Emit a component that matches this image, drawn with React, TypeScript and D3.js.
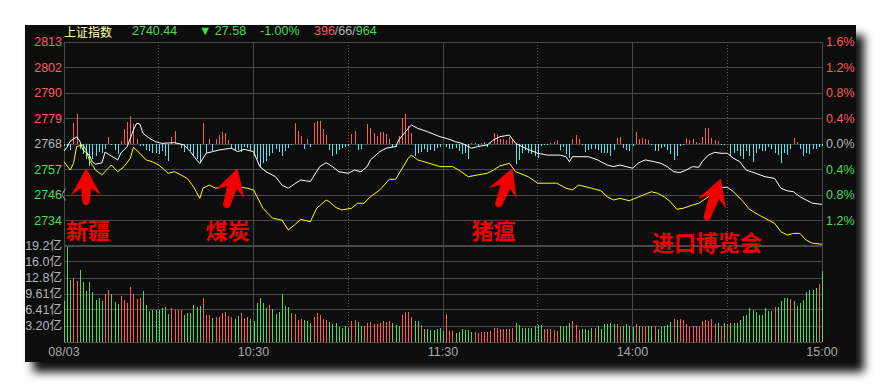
import React from "react";
import * as d3 from "d3";

// ---------- data ----------
const prevClose = 2768.02;
const header = { name: "上证指数", last: "2740.44", change: "▼ 27.58", pct: "-1.00%", up: "396", flat: "66", down: "964" };

const priceTickLabels = ["2813", "2802", "2790", "2779", "2768", "2757", "2746", "2734"];
const pctTickLabels = ["1.6%", "1.2%", "0.8%", "0.4%", "0.0%", "0.4%", "0.8%", "1.2%"];
const pctTickValues = [1.6, 1.2, 0.8, 0.4, 0, -0.4, -0.8, -1.2];
const volTickLabels = ["19.2亿", "16.0亿", "12.8亿", "9.61亿", "6.41亿", "3.20亿"];
const volTickValues = [19.22, 16.02, 12.81, 9.61, 6.41, 3.2];
const timeLabels = ["08/03", "10:30", "11:30", "14:00", "15:00"];
const timeLabelMinutes = [0, 60, 120, 180, 240];

// weighted index (white line): [minute, price]
const indexLine: [number, number][] = [
  [0, 2765.0], [1, 2766.7], [2, 2769.3], [4, 2771.1], [5, 2769.3], [6, 2765.4], [8, 2763.2], [9, 2760.2], [10, 2759.3], [12, 2759.8],
  [13, 2764.5], [15, 2762.8], [17, 2761.1], [18, 2764.1], [20, 2766.9], [22, 2774.1], [23, 2777.0], [24, 2776.7], [25, 2772.7], [27, 2770.5],
  [29, 2769.0], [31, 2768.3], [35, 2768.6], [38, 2767.6], [40, 2764.7], [42, 2761.1], [43, 2759.6], [45, 2764.0], [47, 2764.7], [49, 2765.4],
  [53, 2766.2], [55, 2764.7], [57, 2765.7], [60, 2764.7], [62, 2758.2], [64, 2756.0], [67, 2753.8], [69, 2750.2], [71, 2748.8], [73, 2750.7],
  [75, 2752.4], [78, 2751.7], [81, 2758.2], [83, 2759.9], [85, 2758.2], [87, 2756.0], [90, 2755.3], [92, 2756.7], [94, 2756.0], [96, 2758.2],
  [97, 2761.1], [100, 2764.7], [102, 2766.2], [105, 2766.9], [106, 2769.8], [109, 2774.8], [110, 2776.3], [112, 2774.8], [115, 2773.4], [119, 2771.2],
  [121, 2770.5], [124, 2769.0], [126, 2768.3], [129, 2766.2], [131, 2766.9], [134, 2767.6], [136, 2769.8], [138, 2771.2], [141, 2771.9], [143, 2768.3],
  [146, 2766.2], [150, 2764.0], [153, 2763.2], [157, 2763.2], [159, 2762.5], [160, 2760.3], [161, 2762.5], [166, 2762.5], [169, 2761.1], [170, 2760.3],
  [172, 2758.9], [174, 2758.2], [176, 2758.9], [178, 2758.2], [180, 2757.5], [182, 2759.9], [184, 2761.1], [187, 2760.3], [189, 2759.6], [191, 2758.2],
  [193, 2756.0], [195, 2755.6], [197, 2756.7], [199, 2758.2], [201, 2757.9], [202, 2760.3], [204, 2763.2], [206, 2764.4], [208, 2764.0], [210, 2764.0],
  [212, 2761.8], [214, 2760.3], [216, 2756.7], [219, 2755.3], [222, 2753.8], [225, 2753.1], [227, 2748.8], [229, 2747.7], [231, 2747.3], [233, 2745.1],
  [235, 2743.7], [237, 2742.3], [240, 2741.8],
];

// unweighted index (yellow line): [minute, price]
const equalLine: [number, number][] = [
  [0, 2760.3], [2, 2756.7], [3, 2759.6], [4, 2766.9], [6, 2767.6], [7, 2765.4], [8, 2761.1], [10, 2756.7], [12, 2754.6], [14, 2757.5],
  [15, 2758.9], [17, 2756.0], [19, 2758.2], [21, 2761.8], [22, 2766.6], [24, 2764.0], [26, 2761.1], [28, 2760.3], [30, 2758.9], [33, 2755.3],
  [35, 2756.0], [37, 2754.6], [39, 2753.1], [41, 2749.5], [43, 2744.4], [44, 2748.8], [46, 2750.2], [48, 2748.8], [52, 2750.2], [55, 2749.5],
  [58, 2748.8], [60, 2748.1], [63, 2740.1], [66, 2735.8], [69, 2735.0], [71, 2730.7], [73, 2732.9], [75, 2735.3], [78, 2734.3], [80, 2740.1],
  [83, 2743.7], [84, 2743.0], [86, 2740.5], [88, 2739.4], [91, 2740.1], [93, 2742.3], [95, 2742.3], [97, 2745.1], [100, 2748.1], [103, 2752.7],
  [105, 2752.7], [109, 2761.8], [110, 2763.2], [112, 2761.1], [115, 2759.9], [119, 2758.2], [123, 2758.2], [125, 2756.7], [128, 2753.8], [131, 2754.6],
  [134, 2755.3], [136, 2756.7], [138, 2758.5], [141, 2759.6], [143, 2756.0], [147, 2753.8], [150, 2751.0], [153, 2751.0], [156, 2751.0], [159, 2748.8],
  [161, 2748.1], [163, 2750.2], [167, 2748.8], [170, 2747.7], [172, 2745.1], [174, 2743.7], [176, 2744.4], [179, 2743.4], [182, 2745.1], [186, 2747.3],
  [188, 2746.6], [190, 2745.1], [192, 2743.0], [194, 2739.7], [196, 2740.1], [199, 2741.5], [201, 2742.3], [204, 2745.1], [206, 2748.4], [208, 2749.2],
  [210, 2749.2], [212, 2747.3], [215, 2743.0], [217, 2739.7], [220, 2737.2], [223, 2735.0], [225, 2733.6], [227, 2729.9], [229, 2728.5], [231, 2729.2],
  [233, 2729.2], [235, 2726.3], [237, 2724.9], [240, 2724.5],
];

// buy/sell strength bars around the 0.0% line, one per minute
const strength = [
  -2, -3, -6, 21, 30, -5, -10, -15, -22, -15, -12, -8, -9, -5, 7, -1, -6, -10, 3, 15,
  22, 28, 20, 5, -2, -2, -6, -7, -9, -9, -10, -7, -12, -17, 7, 13, 0, -4, -8, -5,
  -7, -12, -15, -18, 21, -9, 5, -7, 5, 9, 12, 11, 4, -5, -7, -6, -8, -3, -4, -6,
  -12, -15, -23, -19, -17, -12, -9, -5, -8, -12, -7, -4, -1, 21, 13, 8, -5, 5, -3, 21,
  23, 23, 15, 9, -6, -12, -10, -6, -4, -3, -2, 10, 13, -6, -5, 0, 20, 16, 11, 8,
  12, 12, 10, 5, -3, -3, 8, 26, 30, 18, 11, -12, -9, -8, -5, -8, -6, -7, -4, -3,
  0, -3, -5, -5, -4, -7, -10, -9, -15, 1, 1, -2, 1, 2, -3, 1, 11, 9, 5, 5,
  4, 7, 4, -20, -16, -9, -6, -9, -10, -12, -14, -2, -1, -1, 1, 2, 4, -6, -3, -10,
  -14, 5, 9, 5, -1, -8, -6, -5, -5, -6, -9, -9, -9, -12, -6, 6, 7, -4, -6, -7,
  -2, 12, 5, 6, 5, 4, -1, -7, -7, -4, -3, -6, -10, -16, -12, -2, -1, 6, 4, 5,
  2, 1, 7, 16, 16, 6, 4, 3, -1, -1, 0, -12, -9, -7, -12, -15, -7, -12, -18, -9,
  -5, -7, -7, -3, -5, -9, -11, -19, -9, -11, -5, 6, 2, -5, -12, -9, -10, -5, -5, -3,
  -2,
];

// turnover per minute (亿)
const volume = [
  8.2, 19.1, 12.4, 12.9, 12.2, 14.4, 12.0, 10.2, 12.0, 10.0,
  8.4, 8.8, 8.2, 9.6, 10.4, 9.6, 8.0, 7.6, 9.2, 8.4,
  7.8, 11.0, 9.6, 8.6, 8.8, 10.2, 7.4, 6.2, 6.4, 6.4,
  6.4, 6.8, 7.0, 5.6, 6.8, 6.4, 6.4, 6.4, 5.4, 5.8,
  5.8, 7.4, 7.0, 7.2, 8.8, 5.4, 5.4, 4.8, 5.0, 5.0,
  5.8, 6.0, 5.2, 5.0, 4.6, 5.2, 5.8, 4.8, 5.0, 4.6,
  4.2, 7.8, 8.8, 7.8, 6.8, 7.4, 6.6, 5.6, 6.0, 9.6,
  7.2, 7.0, 5.8, 5.6, 4.4, 4.6, 4.4, 4.2, 3.8, 5.0,
  5.8, 5.4, 4.6, 4.4, 4.0, 3.6, 3.8, 3.0, 2.8, 3.2,
  2.8, 4.2, 4.4, 4.0, 3.2, 3.2, 3.8, 4.0, 3.6, 3.6,
  3.8, 4.2, 4.0, 4.2, 3.8, 3.4, 3.2, 5.4, 6.0, 6.0,
  5.1, 4.2, 4.2, 3.4, 2.6, 2.6, 2.4, 2.4, 2.6, 2.8,
  2.2, 5.6, 2.2, 2.2, 1.8, 2.0, 2.6, 2.4, 2.4, 2.0,
  2.0, 1.8, 2.0, 2.0, 2.0, 2.2, 2.8, 2.8, 2.6, 2.6,
  2.6, 2.6, 2.8, 3.8, 3.4, 2.8, 2.8, 2.8, 2.8, 3.2,
  3.4, 3.4, 2.6, 2.6, 2.6, 2.4, 2.2, 3.2, 3.0, 3.2,
  3.8, 4.2, 3.4, 2.4, 2.6, 2.6, 2.4, 2.8, 2.8, 3.2,
  2.6, 3.6, 3.6, 3.8, 3.6, 3.6, 3.0, 3.2, 3.6, 3.2,
  3.0, 3.6, 3.2, 3.0, 3.0, 3.2, 3.2, 3.2, 2.6, 3.0,
  3.2, 3.4, 4.0, 4.6, 4.4, 4.6, 4.4, 3.6, 3.0, 3.2,
  3.2, 3.2, 4.2, 4.4, 4.2, 4.6, 3.6, 3.8, 3.2, 3.8,
  3.6, 3.8, 3.8, 3.8, 4.4, 5.2, 5.4, 6.8, 6.4, 6.0,
  5.4, 5.4, 6.8, 6.2, 6.2, 7.0, 7.0, 8.2, 8.8, 8.8,
  8.6, 8.2, 7.2, 7.8, 8.4, 10.0, 10.4, 10.4, 10.8, 11.6,
  14.2,
];

// 1 = up minute (red bar), 0 = down minute (green bar)
const volumeUp = [
  0, 0, 0, 1, 1, 0, 0, 0, 0, 0, 0, 0, 0, 1, 1, 0, 0, 0, 1, 1,
  1, 1, 1, 1, 1, 0, 0, 0, 0, 0, 0, 0, 0, 0, 1, 1, 1, 1, 0, 0,
  0, 0, 0, 0, 1, 1, 1, 0, 1, 1, 1, 1, 1, 1, 0, 0, 1, 1, 1, 0,
  0, 0, 0, 0, 0, 1, 0, 0, 0, 0, 0, 0, 1, 1, 1, 1, 0, 0, 0, 1,
  1, 1, 1, 1, 0, 0, 0, 0, 0, 0, 0, 1, 1, 0, 0, 1, 1, 1, 1, 1,
  1, 1, 1, 1, 0, 0, 0, 1, 1, 1, 1, 0, 0, 1, 0, 0, 0, 0, 0, 0,
  0, 1, 1, 1, 0, 0, 0, 0, 0, 0, 1, 1, 1, 1, 1, 1, 1, 1, 1, 1,
  1, 1, 1, 0, 0, 0, 0, 0, 0, 0, 0, 0, 1, 1, 1, 1, 1, 0, 0, 0,
  0, 1, 1, 1, 0, 0, 0, 0, 1, 0, 0, 0, 0, 0, 0, 1, 1, 0, 0, 0,
  0, 1, 0, 1, 1, 0, 0, 1, 0, 0, 0, 0, 0, 1, 0, 1, 1, 1, 1, 1,
  1, 1, 1, 1, 1, 1, 1, 0, 1, 0, 1, 0, 0, 0, 0, 0, 0, 0, 0, 0,
  0, 0, 0, 0, 0, 1, 0, 0, 0, 0, 1, 0, 0, 0, 0, 0, 0, 0, 0, 1,
  0,
];

// news annotations: label and the minute the arrow points at
const newsLabels = ["新疆", "煤炭", "猪瘟", "进口博览会"];
const newsMinutes = [7, 55, 142, 208];

// ---------- layout / style ----------
const W = 881;
const H = 389;
const panel = { x: 25, y: 25, w: 831, h: 337 };
const plot = { left: 64, right: 822, top: 42, priceBottom: 246, volBottom: 342 };
const C = {
  bg: "#0a0a0a",
  grid: "#484848",
  red: "#ff5a5a",
  green: "#46dc5a",
  cyan: "#5ae4ee",
  gray: "#b4b4b4",
  yellowText: "#ffffa8",
  anno: "#f20000",
};
const numFont = "'Liberation Sans', Arial, 'Noto Sans CJK SC', sans-serif";
const cjkFont = "'Noto Sans CJK SC', 'Noto Sans', sans-serif";
// arrow layout per annotation: tip offset (pct units), tail vector (px), text anchor offset (px)
const arrowLayout = [
  { tipPct: -0.38, tail: [0, 37], text: [2, 71] },
  { tipPct: -0.38, tail: [-12, 40], text: [-10, 71] },
  { tipPct: -0.38, tail: [-15, 39], text: [-19, 71] },
  { tipPct: -0.54, tail: [-15, 42], text: [-14, 73] },
];

function arrowPath(tx: number, ty: number, dx: number, dy: number) {
  const L = Math.hypot(dx, dy);
  const ux = dx / L, uy = dy / L; // along the arrow, from tip to tail
  const vx = -uy, vy = ux; // perpendicular
  const p = (a: number, b: number) => [tx + ux * a + vx * b, ty + uy * a + vy * b];
  const pts = [
    p(0, 0),
    p(27, 15),
    p(20, 5.2),
    p(L - 3, 3.6),
    p(L - 0.8, 2.4),
    p(L, 0),
    p(L - 0.8, -2.4),
    p(L - 3, -3.6),
    p(20, -5.2),
    p(27, -15),
  ];
  return "M" + pts.map((q) => q[0].toFixed(1) + "," + q[1].toFixed(1)).join("L") + "Z";
}

export default function App() {
  const x = d3.scaleLinear().domain([0, 240]).range([plot.left, plot.right]);
  const yPct = d3.scaleLinear().domain([-1.6, 1.6]).range([plot.priceBottom, plot.top]);
  const toPct = (p: number) => (p / prevClose - 1) * 100;
  const yVol = d3.scaleLinear().domain([0, 19.22]).range([plot.volBottom, plot.priceBottom]);
  const y0 = yPct(0);
  const yStr = d3.scaleLinear().domain([-40, 40]).range([y0 + 40, y0 - 40]);

  const line = d3
    .line<[number, number]>()
    .x((d) => x(d[0]))
    .y((d) => yPct(toPct(d[1])));

  const hGrid = d3.range(-1.6, 1.61, 0.4).map((v) => yPct(v));
  const vGridSolid = [60, 120, 180];
  const vGridDotted = [30, 90, 150, 210];

  return (
    <svg
      width={W}
      height={H}
      style={{ position: "absolute", left: 0, top: 0, display: "block", background: "#ffffff" }}
    >
      <defs>
        <filter id="shadow" x="-5%" y="-5%" width="115%" height="120%">
          <feDropShadow dx="8" dy="10" stdDeviation="5" floodColor="#000" floodOpacity="0.95" />
        </filter>
      </defs>
      <rect x={panel.x} y={panel.y} width={panel.w} height={panel.h} fill={C.bg} filter="url(#shadow)" />

      {/* header */}
      <g fontSize={12.5} fontFamily={numFont} dominantBaseline="central">
        <text x={64} y={31} fill={C.yellowText} fontFamily={cjkFont} fontSize={12}>
          {header.name}
        </text>
        <text x={132} y={31} fill={C.green}>{header.last}</text>
        <text x={199} y={31} fill={C.green}>{header.change}</text>
        <text x={260} y={31} fill={C.green}>{header.pct}</text>
        <text x={314} y={31}>
          <tspan fill={C.red}>{header.up}</tspan>
          <tspan fill={C.gray}>/{header.flat}/</tspan>
          <tspan fill={C.green}>{header.down}</tspan>
        </text>
      </g>

      {/* grid */}
      <g shapeRendering="crispEdges">
        {hGrid.map((y, i) => (
          <line key={"h" + i} x1={plot.left} x2={plot.right} y1={y} y2={y} stroke={C.grid} strokeWidth={i === 0 ? 2 : 1} />
        ))}
        {volTickValues.slice(1).map((v, i) => (
          <line key={"vh" + i} x1={plot.left} x2={plot.right} y1={yVol(v)} y2={yVol(v)} stroke={C.grid} />
        ))}
        <line x1={plot.left} x2={plot.right} y1={plot.top} y2={plot.top} stroke={C.grid} />
        <line x1={plot.left} x2={plot.right} y1={plot.volBottom} y2={plot.volBottom} stroke={C.grid} />
        {vGridSolid.map((m) => (
          <line key={"vs" + m} x1={x(m)} x2={x(m)} y1={plot.top} y2={plot.volBottom} stroke={C.grid} />
        ))}
        {vGridDotted.map((m) => (
          <line key={"vd" + m} x1={x(m)} x2={x(m)} y1={plot.top} y2={plot.volBottom} stroke="#5a5a5a" strokeDasharray="1,2" />
        ))}
        <line x1={plot.left} x2={plot.left} y1={plot.top} y2={plot.volBottom} stroke={C.grid} />
        <line x1={plot.right} x2={plot.right} y1={plot.top} y2={plot.volBottom} stroke={C.grid} />
      </g>

      {/* strength bars */}
      <g shapeRendering="crispEdges">
        {strength.map((v, i) =>
          v === 0 ? null : (
            <line
              key={"s" + i}
              x1={Math.round(x(i)) + 0.5}
              x2={Math.round(x(i)) + 0.5}
              y1={y0}
              y2={yStr(v)}
              stroke={v > 0 ? C.red : C.cyan}
            />
          )
        )}
      </g>

      {/* volume bars */}
      <g shapeRendering="crispEdges">
        {volume.map((v, i) => (
          <rect
            key={"v" + i}
            x={Math.round(x(i)) - 0.5}
            width={1.6}
            y={yVol(v)}
            height={plot.volBottom - yVol(v)}
            fill={volumeUp[i] ? C.red : C.green}
          />
        ))}
      </g>

      {/* lines */}
      <path d={line(equalLine) || ""} fill="none" stroke="#ffff00" strokeWidth={1} />
      <path d={line(indexLine) || ""} fill="none" stroke="#ffffff" strokeWidth={1} />

      {/* left axis */}
      <g fontSize={12.5} fontFamily={numFont} dominantBaseline="central" textAnchor="end">
        {priceTickLabels.map((t, i) => (
          <text
            key={"pl" + i}
            x={62}
            y={yPct(pctTickValues[i])}
            fill={pctTickValues[i] > 0 ? C.red : pctTickValues[i] < 0 ? C.green : C.gray}
          >
            {t}
          </text>
        ))}
        {volTickLabels.map((t, i) => (
          <text key={"vl" + i} x={62} y={yVol(volTickValues[i])} fill={C.gray}>
            {t}
          </text>
        ))}
      </g>
      <polyline points="65.5,188.5 62,194.5 65.5,200.5" fill="none" stroke="#9a9a9a" strokeWidth={1} />

      {/* right axis */}
      <g fontSize={12.5} fontFamily={numFont} dominantBaseline="central" textAnchor="start">
        {pctTickLabels.map((t, i) => (
          <text
            key={"pr" + i}
            x={826}
            y={yPct(pctTickValues[i])}
            fill={pctTickValues[i] > 0 ? C.red : pctTickValues[i] < 0 ? C.green : C.gray}
          >
            {t}
          </text>
        ))}
      </g>

      {/* time axis */}
      <g fontSize={12.5} fontFamily={numFont} dominantBaseline="central" textAnchor="middle" fill="#a8a8a8">
        {timeLabels.map((t, i) => (
          <text key={"t" + i} x={x(timeLabelMinutes[i])} y={352}>
            {t}
          </text>
        ))}
      </g>

      {/* annotations */}
      <g>
        {newsLabels.map((label, i) => {
          const L = arrowLayout[i];
          const tx = x(newsMinutes[i]);
          const ty = yPct(L.tipPct);
          return (
            <g key={"a" + i}>
              <path d={arrowPath(tx, ty, L.tail[0], L.tail[1])} fill={C.anno} />
              <text
                x={tx + L.text[0]}
                y={ty + L.text[1]}
                fill={C.anno}
                fontFamily={cjkFont}
                fontWeight="bold"
                fontSize={22}
                textAnchor="middle"
              >
                {label}
              </text>
            </g>
          );
        })}
      </g>
    </svg>
  );
}
